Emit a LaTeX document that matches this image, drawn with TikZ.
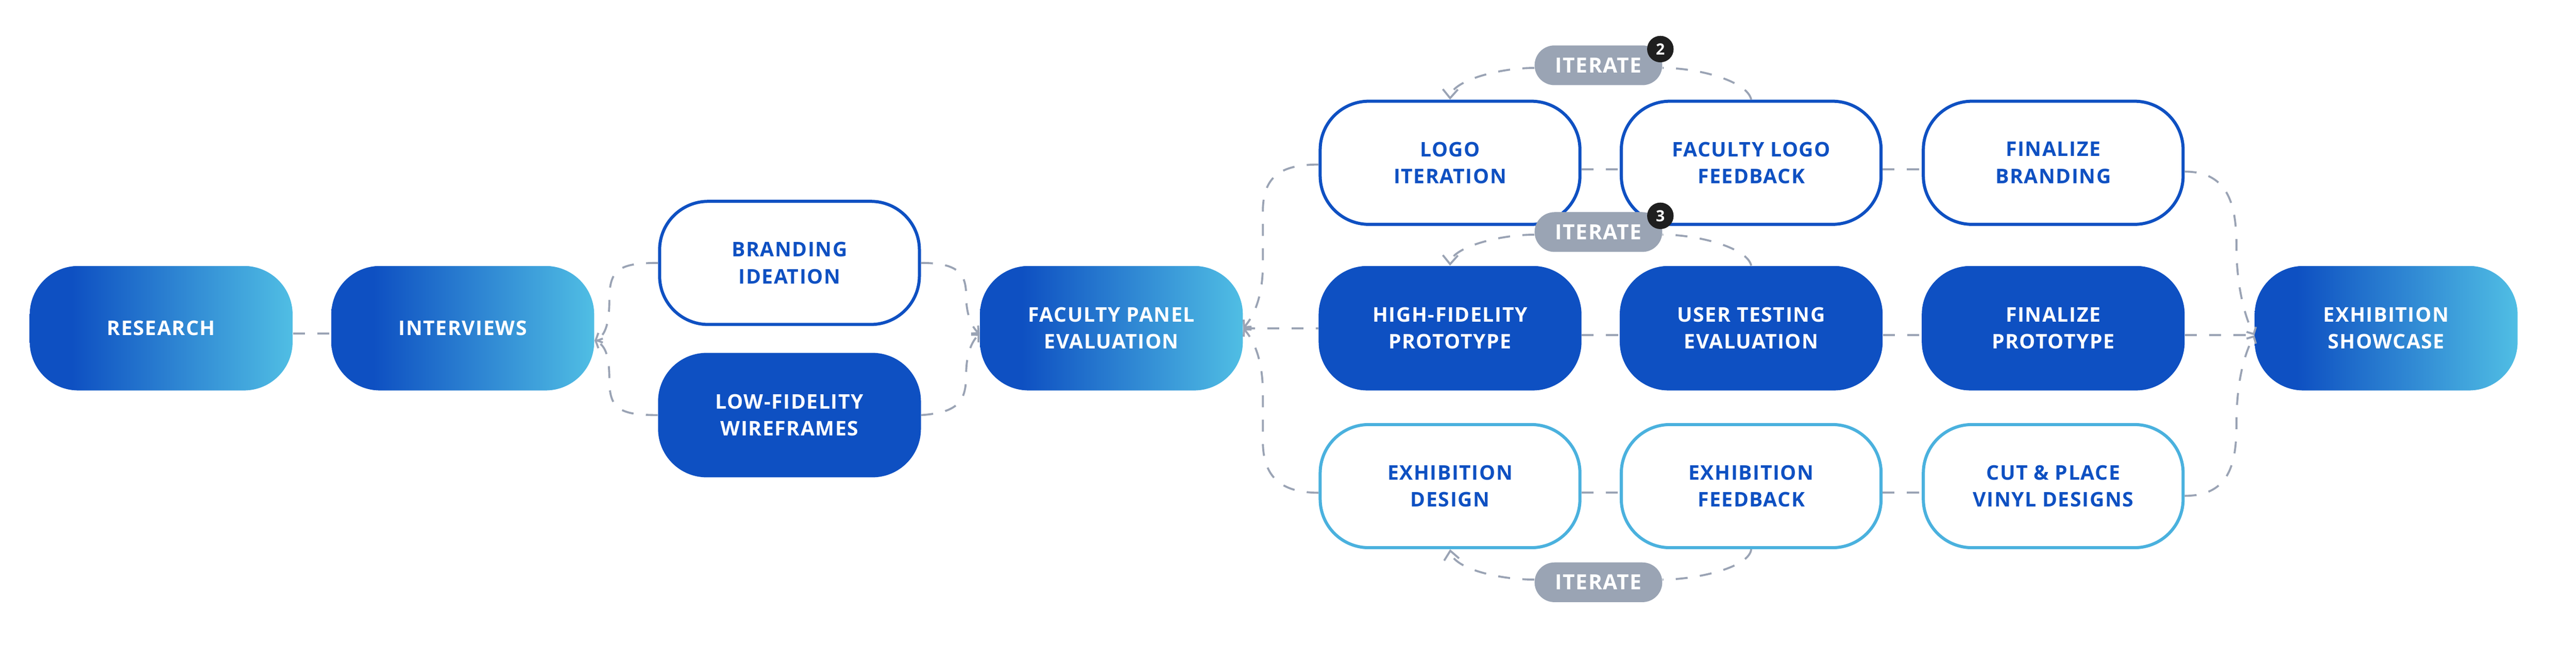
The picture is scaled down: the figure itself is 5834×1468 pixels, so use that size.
\documentclass[tikz,border=0pt]{standalone}
\usepackage{fontspec}
\setmainfont{Open Sans}
\newfontfamily\lsfont{Open Sans}[LetterSpace=4]
\usetikzlibrary{arrows.meta,calc}
\definecolor{dblue}{RGB}{14,80,194}
\definecolor{lblue}{RGB}{80,190,228}
\definecolor{lborder}{RGB}{74,177,222}
\definecolor{conncol}{RGB}{154,163,180}
\definecolor{pillgray}{RGB}{154,164,180}
\definecolor{badgecol}{RGB}{31,31,31}
\pgfdeclarehorizontalshading{bluegrad}{100bp}{color(0bp)=(dblue); color(25bp)=(dblue); color(33bp)=(dblue); color(75bp)=(lblue); color(100bp)=(lblue)}
\tikzset{
  box/.style={rectangle, rounded corners=1.1cm, minimum width=5.95cm, minimum height=2.82cm,
    align=center, inner sep=0pt, font={\lsfont\bfseries\fontsize{13}{17.4}\selectfont}},
  gradbox/.style={box, shade, shading=bluegrad, text=white},
  darkbox/.style={box, fill=dblue, text=white},
  outbox/.style={box, draw=dblue, line width=0.07cm, fill=white, text=dblue,
    minimum width=5.88cm, minimum height=2.79cm},
  lightbox/.style={outbox, draw=lborder},
  pill/.style={rectangle, rounded corners=0.45cm, minimum width=2.89cm, minimum height=0.9cm,
    fill=pillgray, text=white, inner sep=0pt, font={\lsfont\bfseries\fontsize{13.5}{16}\selectfont}},
  badgest/.style={circle, fill=badgecol, text=white, minimum size=0.6cm, inner sep=0pt,
    font={\bfseries\fontsize{10}{12}\selectfont}},
  conn/.style={draw=conncol, line width=0.045cm, dash pattern=on 0.27cm off 0.28cm},
  tip/.style={-{Straight Barb[length=0.12cm,width=0.24cm]}},
  itip/.style={-{Straight Barb[length=0.2cm,width=0.34cm]}}
}
\begin{document}
\begin{tikzpicture}[x=0.01cm,y=-0.01cm]
\useasboundingbox (0,0) rectangle (5834,1468);
% main nodes
\node[gradbox] (research) at (365,744) {RESEARCH};
\node[gradbox] (interviews) at (1048,744) {INTERVIEWS};
\node[outbox] (branding) at (1788,596) {BRANDING\\IDEATION};
\node[darkbox] (lowfi) at (1788,941) {LOW-FIDELITY\\WIREFRAMES};
\node[gradbox] (faculty) at (2517,744) {FACULTY PANEL\\EVALUATION};
\node[outbox] (logo) at (3284,369) {LOGO\\ITERATION};
\node[outbox] (flogo) at (3966,369) {FACULTY LOGO\\FEEDBACK};
\node[outbox] (fbrand) at (4650,369) {FINALIZE\\BRANDING};
\node[darkbox] (hifi) at (3284,744) {HIGH-FIDELITY\\PROTOTYPE};
\node[darkbox] (utest) at (3966,744) {USER TESTING\\EVALUATION};
\node[darkbox] (fproto) at (4650,744) {FINALIZE\\PROTOTYPE};
\node[lightbox] (exdesign) at (3284,1102) {EXHIBITION\\DESIGN};
\node[lightbox] (exfeed) at (3966,1102) {EXHIBITION\\FEEDBACK};
\node[lightbox] (cutplace) at (4650,1102) {CUT \& PLACE\\VINYL DESIGNS};
\node[gradbox] (showcase) at (5404,744) {EXHIBITION\\SHOWCASE};
% iterate pills
\node[pill] (itA) at (3620,148) {ITERATE};
\node[pill] (itB) at (3620,526) {ITERATE};
\node[pill] (itC) at (3620,1320) {ITERATE};
\node[badgest] (badgeA) at ($(itA.north east)+(-5,9)$) {2};
\node[badgest] (badgeB) at ($(itB.north east)+(-5,9)$) {3};
% straight connectors
\draw[conn] ($(research.east)+(0,12)$) -- ($(interviews.west)+(0,12)$);
\draw[conn] (faculty.east) -- (hifi.west);
\draw[conn] ($(logo.east)+(0,15)$) -- ($(flogo.west)+(0,15)$);
\draw[conn] ($(flogo.east)+(0,15)$) -- ($(fbrand.west)+(0,15)$);
\draw[conn] ($(hifi.east)+(0,16)$) -- ($(utest.west)+(0,16)$);
\draw[conn] ($(utest.east)+(0,16)$) -- ($(fproto.west)+(0,16)$);
\draw[conn] ($(fproto.east)+(0,16)$) -- ($(showcase.west)+(0,16)$);
\draw[conn] ($(exdesign.east)+(0,15)$) -- ($(exfeed.west)+(0,15)$);
\draw[conn] ($(exfeed.east)+(0,15)$) -- ($(cutplace.west)+(0,15)$);
% curved connectors
\draw[conn,tip] (branding.west) .. controls (1400,596) and (1380,612) .. (1380,680) .. controls (1380,740) and (1368,762) .. ($(interviews.east)+(0,28)$);
\draw[conn,tip] (lowfi.west) .. controls (1400,941) and (1380,925) .. (1380,860) .. controls (1380,800) and (1368,782) .. ($(interviews.east)+(0,28)$);
\draw[conn,tip] (branding.east) .. controls (2170,596) and (2188,620) .. (2188,670) .. controls (2188,720) and (2205,745) .. ($(faculty.west)+(0,13)$);
\draw[conn,tip] (lowfi.east) .. controls (2170,935) and (2188,910) .. (2188,850) .. controls (2188,795) and (2205,770) .. ($(faculty.west)+(0,13)$);
\draw[conn,tip] ($(logo.west)+(0,4)$) .. controls (2900,373) and (2860,400) .. (2860,480) -- (2860,600) .. controls (2860,680) and (2835,722) .. (faculty.east);
\draw[conn,tip] ($(exdesign.west)+(0,15)$) .. controls (2900,1117) and (2860,1080) .. (2860,1000) -- (2860,890) .. controls (2860,808) and (2835,766) .. (faculty.east);
\draw[conn,tip] ($(fbrand.east)+(0,20)$) .. controls (5050,389) and (5065,470) .. (5065,560) .. controls (5065,650) and (5085,722) .. ($(showcase.west)+(0,16)$);
\draw[conn,tip] ($(cutplace.east)+(0,22)$) .. controls (5050,1124) and (5065,1050) .. (5065,960) .. controls (5065,860) and (5085,798) .. ($(showcase.west)+(0,16)$);
% iterate loops
\draw[conn] (flogo.north) .. controls (3958,185) and (3850,154) .. ($(itA.east)+(0,6)$);
\draw[conn,itip] ($(itA.west)+(0,6)$) .. controls (3390,154) and (3285,185) .. (logo.north);
\draw[conn] (utest.north) .. controls (3958,563) and (3850,532) .. ($(itB.east)+(0,6)$);
\draw[conn,itip] ($(itB.west)+(0,6)$) .. controls (3390,532) and (3285,563) .. (hifi.north);
\draw[conn] (exfeed.south) .. controls (3962,1285) and (3850,1313) .. ($(itC.east)+(0,-6)$);
\draw[conn,itip] ($(itC.west)+(0,-6)$) .. controls (3380,1313) and (3290,1285) .. (exdesign.south);
\end{tikzpicture}
\end{document}
